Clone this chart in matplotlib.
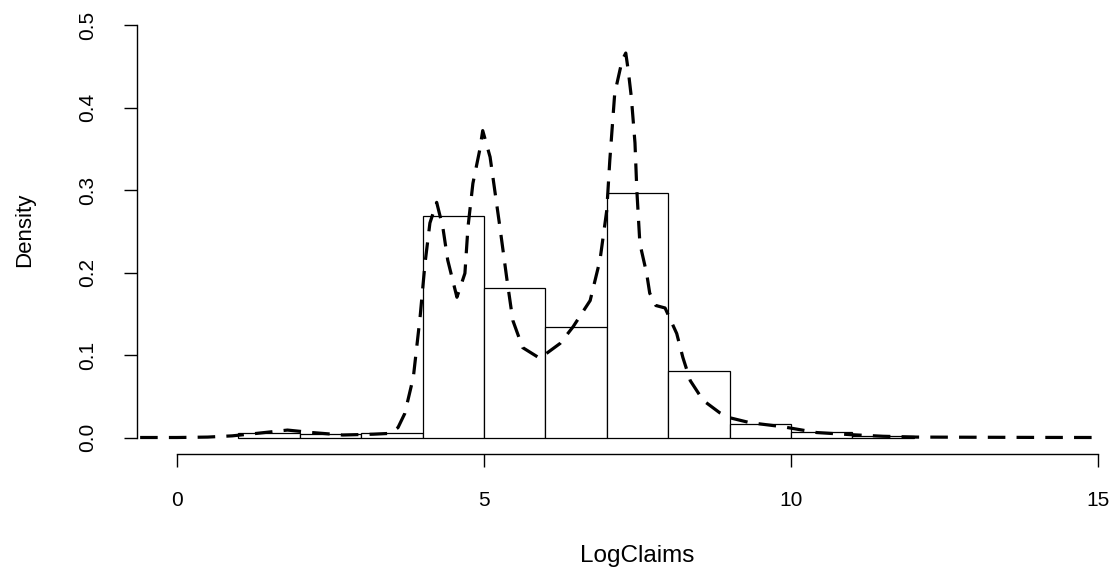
import matplotlib
matplotlib.use("Agg")
import matplotlib.pyplot as plt

# histogram of LogClaims (density scale), bins of width 1
bin_left = [1, 2, 3, 4, 5, 6, 7, 8, 9, 10, 11]
bin_density = [0.005, 0.004, 0.005, 0.269, 0.181, 0.134, 0.296, 0.081, 0.0166, 0.0065, 0.002]

# kernel density estimate
kde_x = [-0.6, 0.0, 0.5, 0.9, 1.3, 1.8, 2.2, 2.7, 3.2, 3.47, 3.6, 3.71, 3.85, 3.96,
         4.04, 4.12, 4.23, 4.33, 4.41, 4.56, 4.69, 4.74, 4.82, 4.93, 4.98, 5.1, 5.26,
         5.37, 5.47, 5.63, 5.91, 6.24, 6.45, 6.73, 6.89, 7.0, 7.05, 7.13, 7.25, 7.31,
         7.35, 7.4, 7.46, 7.49, 7.54, 7.65, 7.70, 7.80, 7.95, 8.14, 8.24, 8.36, 8.57,
         8.84, 9.0, 9.33, 9.87, 10.42, 10.96, 11.5, 12.05, 13.0, 14.0, 15.0]
kde_y = [0, 0, 0.0005, 0.002, 0.005, 0.009, 0.006, 0.003, 0.004, 0.005, 0.012, 0.029,
         0.073, 0.146, 0.211, 0.26, 0.285, 0.255, 0.215, 0.17, 0.199, 0.255, 0.308,
         0.348, 0.372, 0.34, 0.255, 0.194, 0.142, 0.109, 0.096, 0.114, 0.134, 0.166,
         0.215, 0.275, 0.336, 0.417, 0.457, 0.466, 0.445, 0.413, 0.357, 0.30, 0.235,
         0.199, 0.175, 0.16, 0.157, 0.126, 0.097, 0.069, 0.045, 0.030, 0.024, 0.018,
         0.013, 0.006, 0.0035, 0.0015, 0.0005, 0.0003, 0.0001, 0]

x_ticks = [0, 5, 10, 15]
y_ticks = [0.0, 0.1, 0.2, 0.3, 0.4, 0.5]

plt.rcParams['font.family'] = ['Liberation Sans', 'DejaVu Sans']
plt.rcParams['font.size'] = 15

fig = plt.figure(figsize=(11.2, 5.7), dpi=100)
ax = fig.add_axes([137 / 1120, 116 / 570, 983 / 1120, 445.5 / 570])

ax.bar(bin_left, bin_density, width=1, align='edge', facecolor='white',
       edgecolor='black', linewidth=0.9)
ax.plot(kde_x, kde_y, color='black', linewidth=2.3, linestyle=(0, (5.5, 3.5)))

ax.set_xlim(-0.651, 15.36)
ax.set_ylim(-0.02, 0.52)

for side in ['top', 'right']:
    ax.spines[side].set_visible(False)
ax.spines['left'].set_bounds(0, 0.5)
ax.spines['bottom'].set_bounds(0, 15)
ax.spines['left'].set_linewidth(1.0)
ax.spines['bottom'].set_linewidth(1.0)

ax.set_xticks(x_ticks)
ax.set_xticklabels([str(t) for t in x_ticks])
ax.set_yticks(y_ticks)
ax.set_yticklabels([f"{t:.1f}" for t in y_ticks], rotation=90, va='center')
ax.tick_params(axis='x', length=9.5, width=1.0, pad=17)
ax.tick_params(axis='y', length=9.5, width=1.0, pad=19)

ax.set_xlabel('LogClaims', va='center', fontsize=17.5)
ax.xaxis.set_label_coords(0.509, -0.229)
ax.set_ylabel('Density', va='center', fontsize=16)
ax.yaxis.set_label_coords(-0.114, 0.503)

fig.savefig('out.png', dpi=100)
plt.close(fig)
